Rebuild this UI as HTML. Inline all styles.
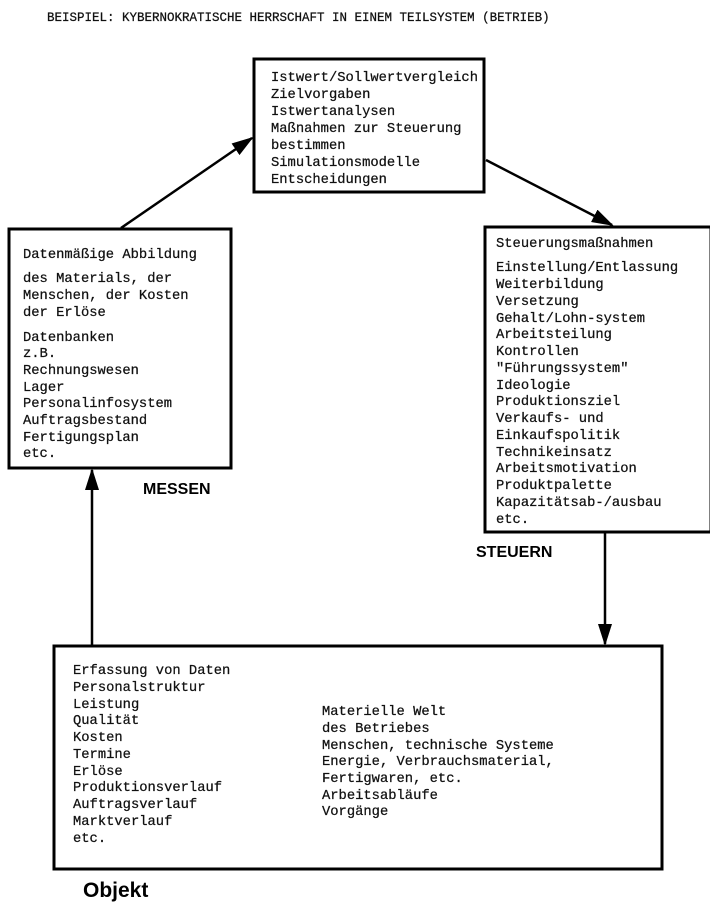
<!DOCTYPE html>
<html><head><meta charset="utf-8"><style>
body{margin:0;background:#fff}
svg{display:block}
.t{font-family:"Liberation Mono",monospace;font-size:13.8px;fill:#111;stroke:#111;stroke-width:0.25}
.h{font-family:"Liberation Sans",sans-serif;font-weight:bold;fill:#000}
</style></head><body>
<svg width="710" height="907" viewBox="0 0 710 907">
<defs>
<marker id="b" markerWidth="22" markerHeight="14" refX="20" refY="7" orient="auto" markerUnits="userSpaceOnUse"><path d="M0,0L22,7L0,14z" fill="#000"/></marker></defs>
<text x="47" y="21" class="t" style="font-size:12.5px">BEISPIEL: KYBERNOKRATISCHE HERRSCHAFT IN EINEM TEILSYSTEM (BETRIEB)</text>
<g fill="none" stroke="#000" stroke-width="3">
<rect x="254" y="59" width="230" height="133"/>
<rect x="9" y="229" width="222" height="239"/>
<rect x="485" y="227" width="226" height="305"/>
<rect x="54" y="646" width="608" height="223"/>
</g>
<g stroke="#000" stroke-width="2.5">
<line x1="121" y1="228" x2="252" y2="138" marker-end="url(#b)"/>
<line x1="486" y1="160" x2="612" y2="225" marker-end="url(#b)"/>
<line x1="605" y1="533" x2="605" y2="644" marker-end="url(#b)"/>
<line x1="92" y1="645" x2="92" y2="470" marker-end="url(#b)"/>
</g>
<g class="t">
<text x="271" y="81">Istwert/Sollwertvergleich</text>
<text x="271" y="98">Zielvorgaben</text>
<text x="271" y="115">Istwertanalysen</text>
<text x="271" y="132">Maßnahmen zur Steuerung</text>
<text x="271" y="149">bestimmen</text>
<text x="271" y="166">Simulationsmodelle</text>
<text x="271" y="183">Entscheidungen</text>

<text x="23" y="258">Datenmäßige Abbildung</text>
<text x="23" y="282">des Materials, der</text>
<text x="23" y="299">Menschen, der Kosten</text>
<text x="23" y="316">der Erlöse</text>
<text x="23" y="341">Datenbanken</text>
<text x="23" y="357">z.B.</text>
<text x="23" y="374">Rechnungswesen</text>
<text x="23" y="391">Lager</text>
<text x="23" y="407">Personalinfosystem</text>
<text x="23" y="424">Auftragsbestand</text>
<text x="23" y="441">Fertigungsplan</text>
<text x="23" y="457">etc.</text>

<text x="496" y="247">Steuerungsmaßnahmen</text>
<text x="496" y="271">Einstellung/Entlassung</text>
<text x="496" y="288">Weiterbildung</text>
<text x="496" y="305">Versetzung</text>
<text x="496" y="322">Gehalt/Lohn-system</text>
<text x="496" y="338">Arbeitsteilung</text>
<text x="496" y="355">Kontrollen</text>
<text x="496" y="372">"Führungssystem"</text>
<text x="496" y="389">Ideologie</text>
<text x="496" y="405">Produktionsziel</text>
<text x="496" y="422">Verkaufs- und</text>
<text x="496" y="439">Einkaufspolitik</text>
<text x="496" y="456">Technikeinsatz</text>
<text x="496" y="472">Arbeitsmotivation</text>
<text x="496" y="489">Produktpalette</text>
<text x="496" y="506">Kapazitätsab-/ausbau</text>
<text x="496" y="523">etc.</text>

<text x="73" y="674">Erfassung von Daten</text>
<text x="73" y="691">Personalstruktur</text>
<text x="73" y="708">Leistung</text>
<text x="73" y="724">Qualität</text>
<text x="73" y="741">Kosten</text>
<text x="73" y="758">Termine</text>
<text x="73" y="775">Erlöse</text>
<text x="73" y="791">Produktionsverlauf</text>
<text x="73" y="808">Auftragsverlauf</text>
<text x="73" y="825">Marktverlauf</text>
<text x="73" y="842">etc.</text>

<text x="322" y="715">Materielle Welt</text>
<text x="322" y="732">des Betriebes</text>
<text x="322" y="749">Menschen, technische Systeme</text>
<text x="322" y="765">Energie, Verbrauchsmaterial,</text>
<text x="322" y="782">Fertigwaren, etc.</text>
<text x="322" y="799">Arbeitsabläufe</text>
<text x="322" y="815">Vorgänge</text>
</g>
<text x="143" y="494" class="h" style="font-size:16px">MESSEN</text>
<text x="476" y="557" class="h" style="font-size:16px">STEUERN</text>
<text x="83" y="897" class="h" style="font-size:21px">Objekt</text>
</svg>
</body></html>
